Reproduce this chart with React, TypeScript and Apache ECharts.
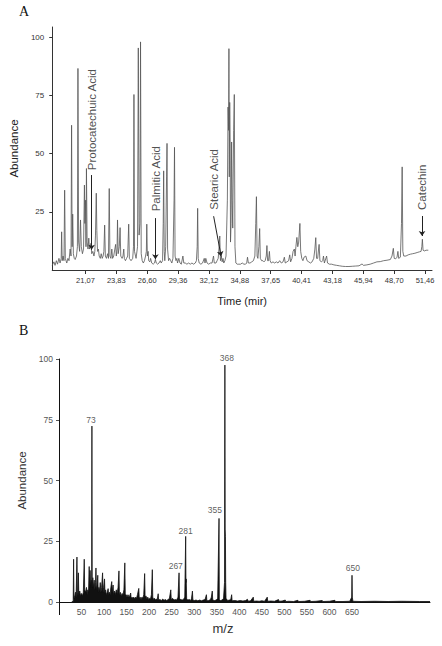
import React, { useEffect, useRef } from 'react';
import * as echarts from 'echarts';

// ---------- Panel A : chromatogram (time in min, abundance) ----------
const chromatogram: [number, number][] = [
  [18.10, 2], [18.25, 3.5], [18.35, 2], [18.47, 4], [18.57, 2.5], [18.70, 5], [18.80, 3], [18.90, 5],
  [18.94, 16.4], [18.99, 4], [19.07, 6], [19.15, 4], [19.21, 34.3], [19.27, 5], [19.40, 3], [19.50, 5],
  [19.60, 4], [19.70, 9], [19.78, 6], [19.83, 62.2], [19.88, 10], [19.93, 24], [19.99, 7], [20.07, 5],
  [20.15, 4.5], [20.27, 6], [20.35, 10], [20.40, 86.6], [20.46, 12], [20.55, 8], [20.63, 21.5], [20.70, 10],
  [20.80, 7], [20.90, 9], [20.98, 36.5], [21.02, 20], [21.07, 30], [21.12, 10], [21.16, 43.6], [21.22, 12],
  [21.30, 9], [21.37, 13.7], [21.43, 9], [21.50, 10], [21.57, 11.5], [21.63, 7], [21.73, 8], [21.83, 6],
  [21.91, 8], [21.97, 15], [22.04, 33], [22.09, 17], [22.15, 8], [22.23, 9], [22.30, 6], [22.40, 5],
  [22.48, 7], [22.57, 5], [22.65, 6], [22.72, 8], [22.79, 19.3], [22.85, 6], [22.95, 5], [23.05, 7],
  [23.13, 5], [23.20, 35], [23.26, 6], [23.35, 5], [23.43, 9], [23.50, 5], [23.60, 6], [23.70, 9],
  [23.77, 11], [23.83, 6], [23.90, 9], [23.94, 21.5], [24.00, 7], [24.10, 10], [24.17, 18.2], [24.23, 6],
  [24.35, 5], [24.43, 6], [24.50, 9], [24.55, 5], [24.65, 4], [24.75, 5], [24.85, 6], [24.94, 19.7],
  [25.00, 5], [25.15, 4], [25.30, 5], [25.37, 10], [25.41, 75.4], [25.46, 8], [25.60, 5], [25.73, 10],
  [25.80, 95.4], [25.87, 15], [25.95, 20], [26.00, 98], [26.06, 7], [26.15, 4], [26.25, 3], [26.35, 4],
  [26.45, 6], [26.52, 8], [26.56, 19.7], [26.61, 6], [26.68, 8], [26.73, 4], [26.83, 3.5], [26.90, 5],
  [27.00, 3], [27.13, 2.5], [27.25, 3], [27.33, 4.5], [27.41, 3], [27.53, 2.5], [27.65, 3], [27.77, 4],
  [27.85, 3], [27.97, 4], [28.03, 20], [28.07, 42.6], [28.12, 8], [28.17, 4], [28.25, 10], [28.33, 40],
  [28.37, 54.4], [28.42, 9], [28.51, 4], [28.60, 5], [28.70, 4], [28.80, 3], [28.90, 5], [29.00, 30],
  [29.04, 52.7], [29.09, 6], [29.17, 4], [29.25, 5], [29.31, 3], [29.43, 5], [29.53, 3], [29.65, 2.5],
  [29.79, 6], [29.87, 3], [30.00, 3], [30.15, 2.5], [30.30, 3], [30.45, 2.5], [30.60, 3], [30.75, 2.5],
  [30.90, 3], [31.00, 4], [31.07, 10], [31.11, 26.5], [31.16, 5], [31.25, 3], [31.40, 2.5], [31.55, 3],
  [31.70, 5], [31.77, 3], [31.84, 5], [31.95, 3], [32.10, 2.5], [32.25, 3], [32.40, 3], [32.53, 6],
  [32.60, 3], [32.75, 3], [32.85, 4], [32.95, 5], [33.03, 10], [33.09, 14.6], [33.15, 4], [33.23, 6],
  [33.30, 3.5], [33.38, 5], [33.45, 3], [33.55, 4], [33.65, 6], [33.77, 30], [33.83, 70], [33.88, 60],
  [33.91, 95.1], [33.94, 40], [33.98, 72], [34.02, 55], [34.05, 12], [34.10, 20], [34.15, 55], [34.20, 30],
  [34.25, 18], [34.33, 60], [34.39, 75.4], [34.45, 10], [34.53, 3], [34.65, 2.5], [34.80, 2.5], [34.95, 2.5],
  [35.10, 3], [35.25, 2.5], [35.40, 2.5], [35.50, 3], [35.57, 5.5], [35.65, 3], [35.80, 3], [35.95, 3.5],
  [36.10, 4], [36.23, 6], [36.31, 20], [36.37, 31.5], [36.43, 6], [36.50, 5], [36.59, 10], [36.66, 17.8],
  [36.72, 5], [36.83, 4], [36.95, 4], [37.05, 3.5], [37.15, 4], [37.25, 6], [37.31, 10.5], [37.37, 4],
  [37.45, 4], [37.53, 8], [37.59, 4], [37.70, 3], [37.85, 3.5], [38.00, 3], [38.15, 3.5], [38.30, 3],
  [38.45, 4], [38.60, 3], [38.75, 3.5], [38.87, 5.5], [38.95, 3], [39.10, 3.5], [39.25, 4], [39.35, 6.5],
  [39.43, 3.5], [39.55, 5], [39.65, 8], [39.76, 9], [39.83, 6], [39.90, 10], [39.99, 14], [40.07, 10],
  [40.15, 12], [40.26, 20], [40.33, 8], [40.43, 5], [40.53, 4], [40.63, 5.5], [40.79, 6], [40.90, 4],
  [41.05, 3.5], [41.20, 3], [41.35, 3.5], [41.50, 5], [41.60, 9], [41.68, 13.9], [41.75, 5], [41.85, 5],
  [41.93, 9], [41.98, 11], [42.05, 4], [42.20, 3.5], [42.30, 4], [42.37, 6], [42.45, 3], [42.65, 6],
  [42.73, 3], [42.90, 2.5], [43.10, 2.5], [43.30, 2.2], [43.55, 2], [43.80, 1.8], [44.05, 1.6], [44.35, 1.5],
  [44.65, 1.5], [44.95, 1.6], [45.25, 1.7], [45.55, 1.8], [45.82, 2.6], [45.95, 2], [46.25, 2.2], [46.55, 2.5],
  [46.85, 3], [47.15, 3.5], [47.45, 3.6], [47.75, 4], [48.05, 4.2], [48.35, 4.5], [48.50, 6], [48.62, 9.3],
  [48.70, 5], [48.83, 4.8], [48.95, 5.5], [49.03, 8], [49.10, 5], [49.25, 5.5], [49.35, 20], [49.41, 44.3],
  [49.47, 8], [49.55, 6], [49.75, 6], [49.95, 6.5], [50.15, 6.8], [50.35, 7], [50.55, 7.2], [50.75, 7.5],
  [50.95, 7.8], [51.10, 8], [51.17, 10], [51.22, 13.2], [51.28, 8.5], [51.40, 8.2], [51.55, 8.5], [51.75, 8.5]
];
const timeTicks = [21.07, 23.83, 26.60, 29.36, 32.12, 34.88, 37.65, 40.41, 43.18, 45.94, 48.70, 51.46];
const abundanceTicksA = [25, 50, 75, 100];
const compounds = ['Protocatechuic Acid', 'Palmitic Acid', 'Stearic Acid', 'Catechin'];
const compoundLabelPos: [number, number][] = [[21.68, 42.9], [27.37, 25.2], [32.56, 25.9], [51.17, 25.8]];
const compoundArrows: [[number, number], [number, number]][] = [
  [[21.62, 40.8], [21.62, 8.7]],
  [[27.33, 22.3], [27.33, 4.6]],
  [[32.54, 23.1], [33.21, 5.9]],
  [[51.19, 23.2], [51.19, 14.6]]
];

// ---------- Panel B : mass spectrum (m/z, abundance) ----------
const spectrum: [number, number][] = [
  [28, 0], [31.5, 0.3], [32.4, 17.6], [33.2, 1.5], [35, 2.5], [36.5, 4], [38, 2], [39.8, 18.5], [40.8, 4],
  [42, 3], [43, 12], [44, 3], [46, 4.5], [48, 2.5], [50, 3.5], [52, 2.5], [54, 4], [56, 17.6], [57, 5],
  [59, 4], [61, 6], [62.5, 3], [64, 5], [65.5, 4], [67, 14.6], [68, 6], [69, 13], [70, 7], [71.5, 9],
  [72.5, 5], [73, 72.4], [73.6, 6], [75, 10], [76.5, 6], [78, 9], [79.5, 5], [81, 8], [82, 14], [83, 5],
  [84.5, 7], [86, 11], [87, 4], [88.5, 6], [90, 4.5], [91.5, 8], [93, 4], [94.5, 6], [96.7, 12], [97.7, 4],
  [99, 6], [101, 9.5], [102, 3.5], [103.5, 5], [105, 3], [107, 4], [109, 5.5], [110, 3], [112, 4],
  [113.5, 3], [115, 6], [117, 8.4], [118, 4], [120, 7], [121, 3], [123, 4.5], [125, 3], [127, 5],
  [129, 3.5], [131, 6], [133, 12.8], [134, 3], [136, 4], [138, 2.5], [140, 3.5], [142, 3], [144, 5],
  [146, 16.1], [147, 3], [149, 3], [151, 2], [153, 3], [155, 2.2], [157, 2.5], [159, 3.7], [160, 1.5],
  [162, 2], [164, 1.5], [166, 2], [168, 1.2], [170, 2], [172, 1.5], [174, 3], [177, 5.6], [178, 1.5],
  [180, 2], [182, 1], [184, 2], [186, 1.5], [188, 3], [190, 11.7], [191, 2], [193, 2.5], [195, 1.2],
  [197, 2], [199, 1], [201, 1.5], [203, 1.2], [205, 3], [207, 13.3], [208, 2], [210, 1], [212, 1.5],
  [214, 0.8], [216, 1.2], [218, 1], [220, 3.4], [221, 0.8], [224, 1], [227, 0.6], [230, 1.2], [233, 0.7],
  [236, 1], [239, 0.6], [242, 1], [245, 1.5], [248, 5], [249, 1], [252, 1.5], [255, 0.8], [258, 1],
  [261, 0.8], [264, 2], [266.3, 12], [267.3, 1.5], [270, 1], [273, 0.8], [276, 1], [279, 2], [281, 27],
  [281.6, 8], [282.2, 9.5], [283.2, 1.2], [286, 0.8], [289, 1], [292, 0.6], [294, 1.5], [296, 4.5],
  [297, 0.8], [300, 0.6], [304, 0.8], [308, 0.5], [312, 0.8], [316, 0.5], [320, 0.8], [324, 1], [327, 3],
  [328, 0.5], [332, 0.6], [336, 1], [338, 2], [340, 4.5], [341, 0.8], [345, 0.6], [349, 0.8], [352, 1.5],
  [355, 34.4], [355.6, 1], [358, 0.6], [362, 0.8], [365, 1.5], [367.2, 8], [368, 97.5], [368.6, 30],
  [369.2, 27], [369.8, 8], [370.5, 1.5], [374, 0.6], [378, 0.8], [381, 1], [383, 3], [384, 0.5], [390, 0.6],
  [396, 0.4], [402, 0.6], [408, 0.4], [414, 0.6], [418, 1.1], [420, 0.3], [425, 0.5], [431, 2], [432, 0.3],
  [438, 0.4], [444, 0.3], [450, 0.5], [456, 0.3], [462, 2], [463, 0.3], [470, 0.4], [478, 0.3], [487, 1],
  [488, 0.3], [495, 0.4], [502, 0.8], [503, 0.2], [510, 0.3], [520, 0.2], [530, 0.7], [531, 0.2], [545, 0.3],
  [557, 0.7], [558, 0.2], [570, 0.3], [584, 0.6], [585, 0.2], [600, 0.3], [612, 0.7], [613, 0.2], [630, 0.2],
  [645, 0.3], [649.3, 2], [650, 11], [650.7, 2], [652, 0.3], [670, 0.2], [700, 0.3], [730, 0.2], [760, 0.3],
  [800, 0.2], [823, 0.2]
];
const mzTicks = [50, 100, 150, 200, 250, 300, 350, 400, 450, 500, 550, 600, 650];
const abundanceTicksB = [0, 25, 50, 75, 100];
const peakNames = ['73', '368', '355', '281', '267', '650'];
const peakLabelPos: [number, number][] = [[70.8, 74.9], [372.6, 100.6], [345.8, 37.9], [281, 29.2], [259, 14.8], [652, 14]];

const FONT = '"Liberation Sans", Arial, sans-serif';

export default function App() {
  const ref = useRef<HTMLDivElement>(null);
  useEffect(() => {
    if (!ref.current) return;
    const chart = echarts.init(ref.current, null, { renderer: 'svg' });
    const option: any = {
      animation: false,
      backgroundColor: '#fff',
      textStyle: { fontFamily: FONT },
      grid: [
        { left: 49, top: 27, width: 383, height: 243 },
        { left: 59, top: 359, width: 371, height: 243 }
      ],
      xAxis: [
        {
          type: 'value', gridIndex: 0, min: 18.1, max: 52.08,
          name: 'Time (mir)', nameLocation: 'middle', nameGap: 25,
          nameTextStyle: { fontSize: 11, color: '#222', fontFamily: FONT },
          axisLine: { show: true, lineStyle: { color: '#333', width: 1 } },
          axisTick: { show: true, customValues: timeTicks, length: 4, lineStyle: { color: '#333' } },
          axisLabel: {
            customValues: timeTicks, fontSize: 7.5, color: '#333', margin: 6, fontFamily: FONT,
            formatter: (v: number) => v.toFixed(2).replace('.', ',')
          },
          splitLine: { show: false }
        },
        {
          type: 'value', gridIndex: 1, min: 0, max: 823,
          name: 'm/z', nameLocation: 'middle', nameGap: 20,
          nameTextStyle: { fontSize: 13, color: '#333', fontFamily: FONT, padding: [0, 43, 0, 0] },
          axisLine: { show: true, onZero: false, lineStyle: { color: '#111', width: 1 } },
          axisTick: { show: true, customValues: [0], length: 13, lineStyle: { color: '#111' } },
          axisLabel: { customValues: mzTicks, fontSize: 8.5, color: '#555', margin: 5, fontFamily: FONT },
          splitLine: { show: false }
        }
      ],
      yAxis: [
        {
          type: 'value', gridIndex: 0, min: 0, max: 104.4,
          name: 'Abundance', nameLocation: 'middle', nameGap: 19, nameRotate: 90,
          nameTextStyle: { fontSize: 11.5, color: '#222', fontFamily: FONT },
          axisLine: { show: true, lineStyle: { color: '#333', width: 1 } },
          axisTick: { show: true, customValues: abundanceTicksA, length: 3, lineStyle: { color: '#333' } },
          axisLabel: { customValues: abundanceTicksA, fontSize: 8, color: '#333', margin: 8, fontFamily: FONT },
          splitLine: { show: false }
        },
        {
          type: 'value', gridIndex: 1, min: 0, max: 100,
          name: 'Abundance', nameLocation: 'middle', nameGap: 22, nameRotate: 90,
          nameTextStyle: { fontSize: 11.5, color: '#333', fontFamily: FONT },
          axisLine: { show: true, lineStyle: { color: '#111', width: 1 } },
          axisTick: { show: true, customValues: abundanceTicksB, length: 3, lineStyle: { color: '#555' } },
          axisLabel: { customValues: abundanceTicksB, fontSize: 8.5, color: '#555', margin: 6, fontFamily: FONT, padding: [0, 0, 5, 0] },
          splitLine: { show: false }
        }
      ],
      graphic: [
        { type: 'text', left: 19, top: 4, style: { text: 'A', font: '14px "Liberation Serif", "Times New Roman", serif', fill: '#111' } },
        { type: 'text', left: 19, top: 323, style: { text: 'B', font: '14px "Liberation Serif", "Times New Roman", serif', fill: '#111' } }
      ],
      series: [
        {
          type: 'line', xAxisIndex: 0, yAxisIndex: 0, data: chromatogram,
          showSymbol: false, symbol: 'none', lineStyle: { color: '#555', width: 0.8 }, silent: true
        },
        {
          type: 'scatter', xAxisIndex: 0, yAxisIndex: 0, clip: false, symbolSize: 0.1, silent: true,
          itemStyle: { color: 'rgba(0,0,0,0)' },
          data: compounds.map((n, i) => ({ name: n, value: compoundLabelPos[i] })),
          label: {
            show: true, formatter: '{b}', position: 'inside', rotate: 90, align: 'left', verticalAlign: 'middle',
            fontSize: 11.5, color: '#222', fontFamily: FONT
          },
          markLine: {
            silent: true, symbol: ['none', 'arrow'], symbolSize: 5,
            lineStyle: { color: '#222', width: 1, type: 'solid' },
            itemStyle: { color: '#222' },
            label: { show: false },
            data: compoundArrows.map(([a, b]) => [{ coord: a }, { coord: b }])
          }
        },
        {
          type: 'line', xAxisIndex: 1, yAxisIndex: 1, data: spectrum,
          showSymbol: false, symbol: 'none', lineStyle: { color: '#111', width: 0.8 },
          areaStyle: { color: '#111', opacity: 1 }, silent: true
        },
        {
          type: 'scatter', xAxisIndex: 1, yAxisIndex: 1, clip: false, symbolSize: 0.1, silent: true,
          itemStyle: { color: 'rgba(0,0,0,0)' },
          data: peakNames.map((n, i) => ({ name: n, value: peakLabelPos[i] })),
          label: { show: true, formatter: '{b}', position: 'inside', fontSize: 8.5, color: '#333', fontFamily: FONT }
        }
      ]
    };
    chart.setOption(option);
    return () => chart.dispose();
  }, []);
  return <div ref={ref} style={{ position: 'fixed', left: 0, top: 0, width: 442, height: 646, background: '#fff' }} />;
}
